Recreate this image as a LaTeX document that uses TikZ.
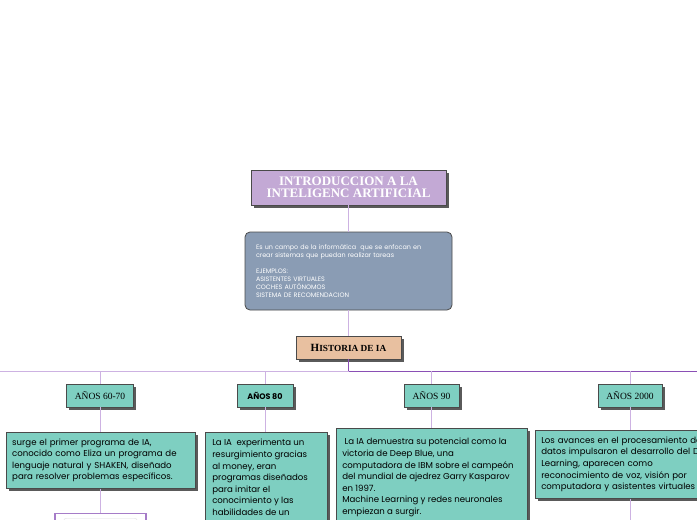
\documentclass[tikz,border=0pt]{standalone}
\usepackage{fontspec}
\setmainfont{Liberation Serif}
\newfontfamily\roundfont{Poppins}
\usetikzlibrary{shadows}

\definecolor{titlepurple}{HTML}{C3A9D5}
\definecolor{descblue}{HTML}{8A9CB4}
\definecolor{histpeach}{HTML}{E8C0A0}
\definecolor{noteteal}{HTML}{7ECFC1}
\definecolor{boxline}{HTML}{4A4A4A}
\definecolor{shadowgray}{HTML}{5A5A5A}
\definecolor{linklav}{HTML}{CDB2E2}
\definecolor{linkdark}{HTML}{8A4FB5}
\definecolor{leafpurple}{HTML}{A67CC8}

\begin{document}
\begin{tikzpicture}[x=1pt,y=-1pt,
    link/.style={draw=linklav, line width=1pt},
    darklink/.style={draw=linkdark, line width=1pt},
    shadowed/.style={draw=boxline, line width=0.5pt,
      drop shadow={shadow xshift=2.5pt, shadow yshift=-2.5pt, fill=shadowgray, opacity=1}},
    headbox/.style={shadowed, fill=titlepurple, minimum width=195pt, minimum height=35pt,
      text=white, align=center, font=\bfseries\fontsize{13}{12.5}\selectfont},
    descbox/.style={draw=boxline, line width=0.8pt, fill=descblue, rounded corners=5pt,
      minimum width=207pt, minimum height=78pt, text width=185pt, inner xsep=11pt,
      align=left, text=white, font=\roundfont\fontsize{6.4}{7.9}\selectfont},
    histbox/.style={shadowed, fill=histpeach, minimum width=105pt, minimum height=23pt,
      font=\bfseries\fontsize{9.3}{10}\selectfont},
    yearbox/.style={shadowed, fill=noteteal, minimum height=23pt, inner xsep=2pt,
      font=\fontsize{9.5}{10}\selectfont},
    notebox/.style={shadowed, fill=noteteal, anchor=north west, align=left,
      inner xsep=6pt, font=\roundfont\fontsize{8.6}{11.6}\selectfont},
    leafbox/.style={draw=leafpurple, line width=1.2pt, fill=white}]

  \useasboundingbox (0,0) rectangle (697,520);
  \clip (0,0) rectangle (697,520);
  \fill[white] (0,0) rectangle (697,520);

  % main column
  \node[headbox] (intro) at (348.5,187.5) {INTRODUCCION A LA\\INTELIGENC ARTIFICIAL};
  \node[descbox] (concept) at (348.5,271) {Es un campo de la informática\ \ que se enfocan en\\crear sistemas que puedan realizar tareas\\[7.9pt]EJEMPLOS:\\ASISTENTES VIRTUALES\\COCHES AUTÓNOMOS\\SISTEMA DE RECOMENDACION};
  \node[histbox] (history) at (348.5,347.5) {{\fontsize{11}{11}\selectfont H}ISTORIA DE IA};

  \path[link] (intro) edge (concept);
  \path[link] (concept) edge (history);

  % bus line
  \coordinate (busL) at (0,371);
  \coordinate (busR) at (697,371);
  \coordinate (hub) at (history.south |- busL);
  \path[darklink] (history) edge (hub);
  \path[link] (busL) edge (hub);
  \path[darklink] (hub) edge (busR);

  % decades
  \node[yearbox, minimum width=67pt] (y60) at (100,395.5) {AÑOS 60-70};
  \node[yearbox, minimum width=56pt, font=\roundfont\bfseries\fontsize{8}{9}\selectfont] (y80) at (265,395.5) {AÑOS 80};
  \node[yearbox, minimum width=55pt] (y90) at (431.5,395.5) {AÑOS 90};
  \node[yearbox, minimum width=64pt] (y2000) at (630,395.5) {AÑOS 2000};

  \foreach \yr in {y60,y80,y90,y2000}
    \path[link] (\yr.north |- busL) edge (\yr);

  % notes
  \node[notebox, text width=177pt, minimum height=56pt] (n60) at (6,432) {surge el primer programa de IA,\\conocido como Eliza un programa de\\lenguaje natural y SHAKEN, diseñado\\para resolver problemas específicos.};
  \node[notebox, inner xsep=7pt, inner ysep=7pt] (n80) at (205,432) {\parbox[t][100pt][t]{108pt}{\raggedright La IA\ \ experimenta un\\resurgimiento gracias\\al money, eran\\programas diseñados\\para imitar el\\conocimiento y las\\habilidades de un}};
  \node[notebox, inner ysep=10pt] (n90) at (336,428) {\parbox[t][100pt][t]{179pt}{\raggedright\ La IA demuestra su potencial como la\\victoria de Deep Blue, una\\computadora de IBM sobre el campeón\\del mundial de ajedrez Garry Kasparov\\en 1997.\\Machine Learning y redes neuronales\\empiezan a surgir.}};
  \node[notebox, text width=190pt, minimum height=68pt] (n2000) at (535,430) {Los avances en el procesamiento de\\datos impulsaron el desarrollo del Deep\\Learning, aparecen como\\reconocimiento de voz, visión por\\computadora y asistentes virtuales};

  \path[link] (y60.south) edge (y60.south |- n60.north);
  \path[link] (y80.south) edge (y80.south |- n80.north);
  \path[link] (y90.south) edge (y90.south |- n90.north);
  \path[link] (y2000.south) edge (y2000.south |- n2000.north);

  % lower level
  \node[leafbox, anchor=north, minimum width=91pt, minimum height=40pt] (leaf) at (100.5,513) {};
  \node[draw=gray!25, rounded corners=3pt, anchor=north, minimum width=74pt, minimum height=30pt] (leafin) at ([yshift=-5pt]leaf.north) {};
  \coordinate (tail) at (630,520);
  \path[link] (n60.south -| leaf.north) edge (leaf);
  \path[link] (n2000.south -| tail) edge (tail);
\end{tikzpicture}
\end{document}
